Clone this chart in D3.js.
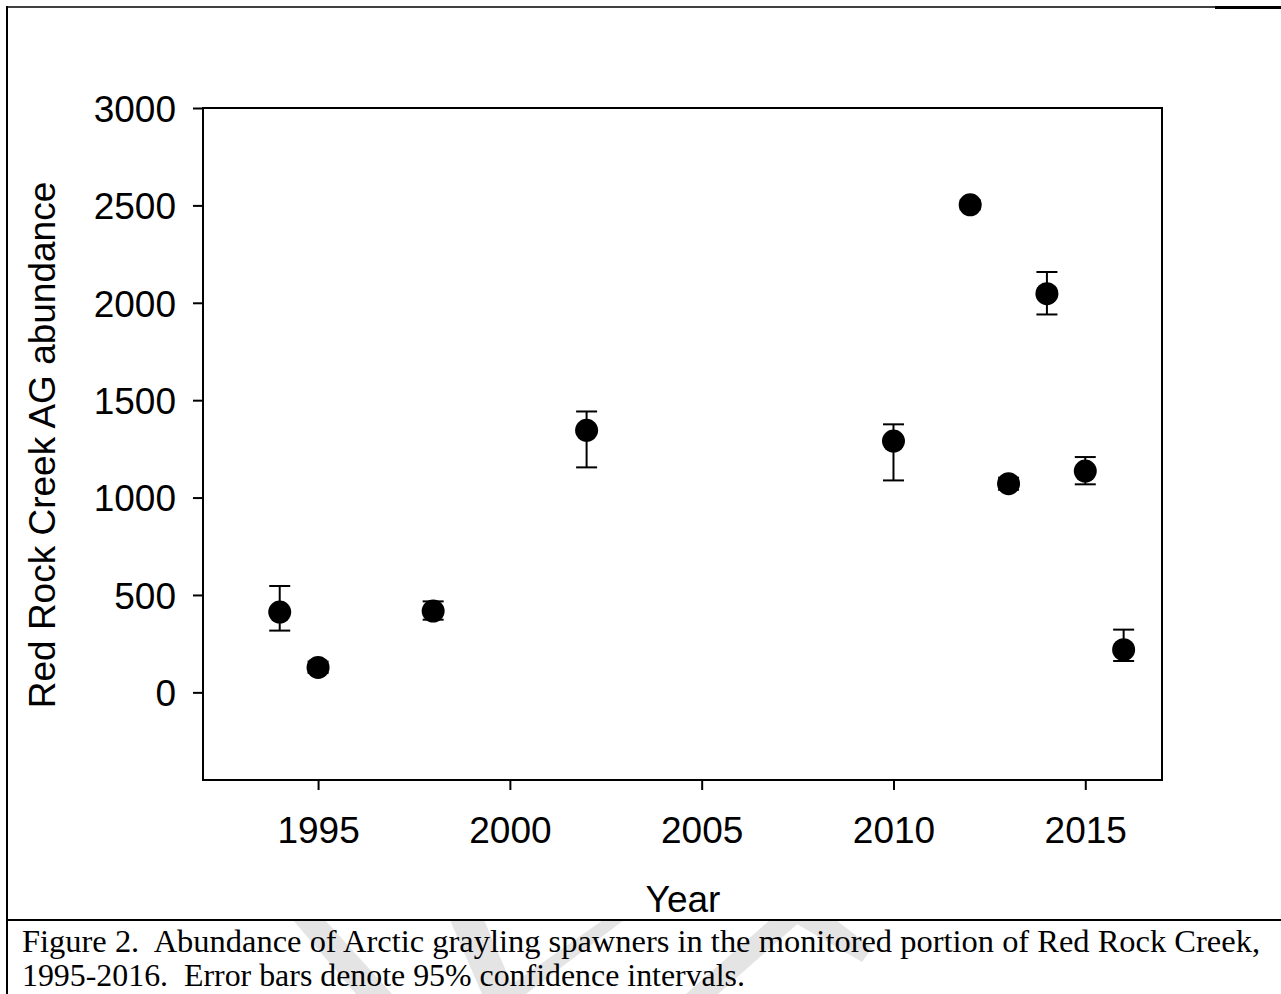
<!DOCTYPE html>
<html>
<head>
<meta charset="utf-8">
<script src="https://cdn.jsdelivr.net/npm/d3@7"></script>
<style>
  html, body { margin: 0; padding: 0; background: #fff; }
  svg { display: block; }
</style>
</head>
<body>
<svg id="chart" width="1281" height="994"></svg>
<script>
// ---- data ----
const years  = [1994, 1995, 1998, 2002, 2010, 2012, 2013, 2014, 2015, 2016];
const values = [412, 128, 417, 1345, 1290, 2503, 1071, 2047, 1136, 219];
const lower  = [317, 100, 373, 1155, 1088, 2480, 1040, 1940, 1068, 161];
const upper  = [546, 158, 467, 1442, 1376, 2526, 1102, 2158, 1208, 322];
const xTicks = [1995, 2000, 2005, 2010, 2015];
const yTicks = [0, 500, 1000, 1500, 2000, 2500, 3000];
const xDomain = [1992, 2017];
const yDomain = [-450, 3000];
const xTitle = "Year";
const yTitle = "Red Rock Creek AG abundance";
const captionLines = [
  "Figure 2.  Abundance of Arctic grayling spawners in the monitored portion of Red Rock Creek,",
  "1995-2016.  Error bars denote 95% confidence intervals."
];

const svg = d3.select("#chart");
const W = 1281, H = 994;

// watermark (only visible in caption area)
const wm = svg.append("g").attr("fill", "#e4e4e4");
const wmShapes = [
  [[293,920],[325,920],[392,994],[356,994]],
  [[450,920],[484,920],[516,994],[482,994]],
  [[603,920],[624,920],[526,994],[498,994]],
  [[770,920],[802,920],[718,994],[686,994]],
  [[790,920],[836,920],[872,948],[862,962]]
];
wmShapes.forEach(p => wm.append("path").attr("d", d3.line()(p) + "Z"));

// frame
const frame = svg.append("g").attr("stroke", "#000").attr("fill", "none");
frame.append("line").attr("x1", 7).attr("x2", 7).attr("y1", 6).attr("y2", H).attr("stroke-width", 2);
frame.append("line").attr("x1", 6).attr("x2", 1216).attr("y1", 7).attr("y2", 7).attr("stroke-width", 1.5);
frame.append("line").attr("x1", 1215).attr("x2", W).attr("y1", 7.5).attr("y2", 7.5).attr("stroke-width", 3);
frame.append("line").attr("x1", 6).attr("x2", W).attr("y1", 920).attr("y2", 920).attr("stroke-width", 2);

// plot
const L = 203, R = 1162, T = 108, B = 780;
const x = d3.scaleLinear().domain(xDomain).range([L, R]);
const y = d3.scaleLinear().domain(yDomain).range([B, T]);

const fontSans = "'Liberation Sans', Arial, sans-serif";

const xAxis = svg.append("g").attr("transform", `translate(0,${B})`)
  .call(d3.axisBottom(x).tickValues(xTicks).tickFormat(d3.format("d")).tickSize(10).tickPadding(27));
const yAxis = svg.append("g").attr("transform", `translate(${L},0)`)
  .call(d3.axisLeft(y).tickValues(yTicks).tickFormat(d3.format("d")).tickSize(10).tickPadding(17));
[xAxis, yAxis].forEach(a => {
  a.select(".domain").remove();
  a.selectAll(".tick line").attr("stroke", "#000").attr("stroke-width", 2);
  a.selectAll(".tick text").attr("fill", "#000").style("font-family", fontSans).style("font-size", "37px");
});
xAxis.selectAll(".tick text").attr("dy", "0.71em");
yAxis.selectAll(".tick text").attr("dy", "0.36em");

// box
svg.append("rect").attr("x", L).attr("y", T).attr("width", R - L).attr("height", B - T)
  .attr("fill", "none").attr("stroke", "#000").attr("stroke-width", 2);

// error bars
const capW = 10.5;
const eb = svg.append("g").attr("stroke", "#000").attr("stroke-width", 2);
years.forEach((yr, i) => {
  const cx = x(yr);
  eb.append("line").attr("x1", cx).attr("x2", cx).attr("y1", y(lower[i])).attr("y2", y(upper[i]));
  eb.append("line").attr("x1", cx - capW).attr("x2", cx + capW).attr("y1", y(lower[i])).attr("y2", y(lower[i]));
  eb.append("line").attr("x1", cx - capW).attr("x2", cx + capW).attr("y1", y(upper[i])).attr("y2", y(upper[i]));
});

// points
svg.append("g").selectAll("circle").data(years).join("circle")
  .attr("cx", d => x(d)).attr("cy", (d, i) => y(values[i])).attr("r", 11.5).attr("fill", "#000");

// axis titles
svg.append("text").attr("x", 683).attr("y", 912).attr("text-anchor", "middle")
  .style("font-family", fontSans).style("font-size", "37px").text(xTitle);
svg.append("text").attr("transform", "translate(55,445) rotate(-90)").attr("text-anchor", "middle")
  .style("font-family", fontSans).style("font-size", "37px").text(yTitle);

// caption
const capG = svg.append("g").style("font-family", "'Liberation Serif', 'Times New Roman', serif")
  .style("font-size", "31px").attr("fill", "#000");
capG.append("text").attr("x", 22).attr("y", 952).attr("textLength", 1238).attr("lengthAdjust", "spacingAndGlyphs")
  .style("white-space", "pre").text(captionLines[0]);
capG.append("text").attr("x", 22).attr("y", 986).attr("textLength", 723).attr("lengthAdjust", "spacingAndGlyphs")
  .style("white-space", "pre").text(captionLines[1]);
</script>
</body>
</html>
